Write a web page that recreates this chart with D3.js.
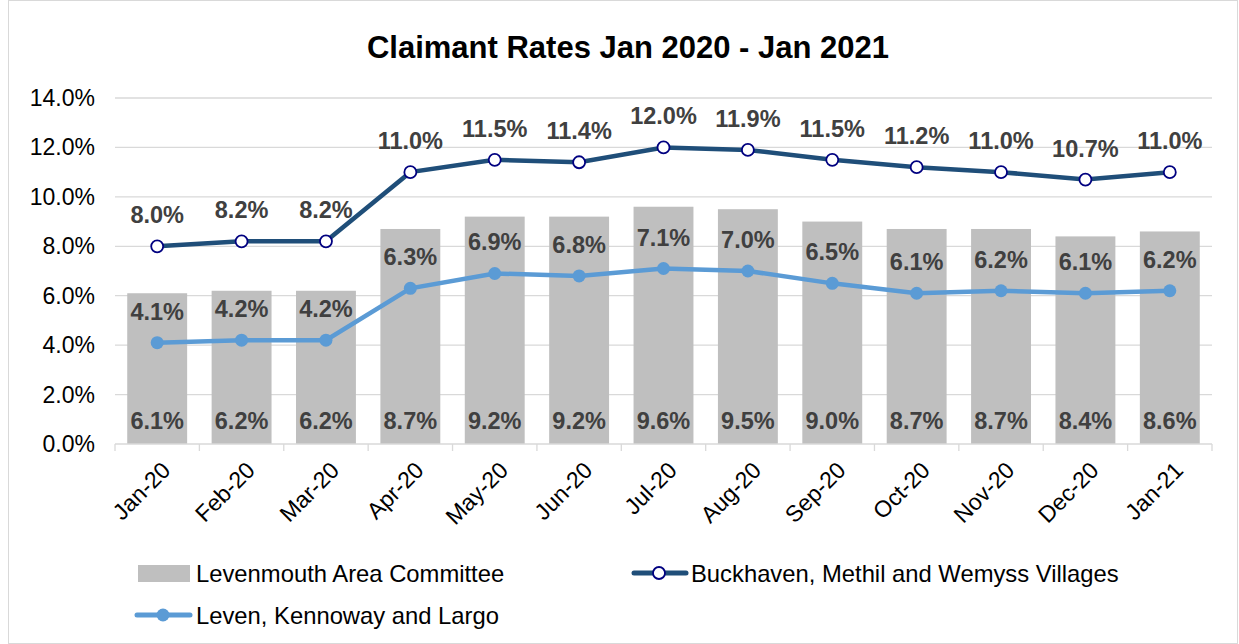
<!DOCTYPE html>
<html>
<head>
<meta charset="utf-8">
<script src="https://cdn.jsdelivr.net/npm/d3@7"></script>
<style>
  body { margin: 0; background: #fff; }
  text { font-family: "Liberation Sans", Arial, sans-serif; }
</style>
</head>
<body>
<div id="chart"></div>
<script>
var months = ["Jan-20", "Feb-20", "Mar-20", "Apr-20", "May-20", "Jun-20", "Jul-20",
              "Aug-20", "Sep-20", "Oct-20", "Nov-20", "Dec-20", "Jan-21"];
var levenmouth = [6.1, 6.2, 6.2, 8.7, 9.2, 9.2, 9.6, 9.5, 9.0, 8.7, 8.7, 8.4, 8.6];
var buckhaven = [8.0, 8.2, 8.2, 11.0, 11.5, 11.4, 12.0, 11.9, 11.5, 11.2, 11.0, 10.7, 11.0];
var leven = [4.1, 4.2, 4.2, 6.3, 6.9, 6.8, 7.1, 7.0, 6.5, 6.1, 6.2, 6.1, 6.2];
var yTicks = [0, 2, 4, 6, 8, 10, 12, 14];

var W = 1239, H = 644;
var margin = {top: 98, right: 27, bottom: 200, left: 115},
    width = W - margin.left - margin.right,
    height = H - margin.top - margin.bottom;

var svg = d3.select("#chart").append("svg")
    .attr("width", W)
    .attr("height", H);

svg.append("rect")
    .attr("x", 8.5).attr("y", 0.5)
    .attr("width", W - 10).attr("height", H - 1)
    .attr("fill", "#fff").attr("stroke", "#d9d9d9");

svg.append("text")
    .attr("x", 628).attr("y", 58)
    .attr("text-anchor", "middle")
    .attr("font-size", 31).attr("font-weight", "bold")
    .attr("fill", "#000")
    .text("Claimant Rates Jan 2020 - Jan 2021");

var g = svg.append("g")
    .attr("transform", "translate(" + margin.left + "," + margin.top + ")");

var X = d3.scaleBand().domain(months).range([0, width]).paddingInner(0.29).paddingOuter(0.145);
var Xc = function(d) { return X(d) + X.bandwidth() / 2; };
var Y = d3.scaleLinear().domain([0, 14]).range([height, 0]);

// gridlines
g.selectAll(".grid").data(yTicks.slice(1)).enter().append("line")
    .attr("x1", 0).attr("x2", width)
    .attr("y1", function(d) { return Y(d); })
    .attr("y2", function(d) { return Y(d); })
    .attr("stroke", "#d9d9d9").attr("stroke-width", 1.3);

// y axis labels
g.selectAll(".ylab").data(yTicks).enter().append("text")
    .attr("x", -20).attr("y", function(d) { return Y(d); })
    .attr("dy", "0.35em")
    .attr("text-anchor", "end")
    .attr("font-size", 23).attr("fill", "#000")
    .text(function(d) { return d.toFixed(1) + "%"; });

// bars
g.selectAll(".bar").data(levenmouth).enter().append("rect")
    .attr("x", function(d, i) { return X(months[i]); })
    .attr("y", function(d) { return Y(d); })
    .attr("width", X.bandwidth())
    .attr("height", function(d) { return height - Y(d); })
    .attr("fill", "#bfbfbf");

// x axis
var step = X.step();
g.append("line").attr("x1", 0).attr("x2", width)
    .attr("y1", height).attr("y2", height)
    .attr("stroke", "#d9d9d9").attr("stroke-width", 1.3);
g.selectAll(".xtick").data(d3.range(months.length + 1)).enter().append("line")
    .attr("x1", function(d) { return d * step; })
    .attr("x2", function(d) { return d * step; })
    .attr("y1", height).attr("y2", height + 7)
    .attr("stroke", "#d9d9d9").attr("stroke-width", 1.3);

g.selectAll(".xlab").data(months).enter().append("text")
    .attr("transform", function(d) {
        return "translate(" + (Xc(d) + 9) + "," + (height + 22) + ") rotate(-45)";
    })
    .attr("text-anchor", "end")
    .attr("dy", "0.35em")
    .attr("font-size", 23).attr("fill", "#000")
    .text(function(d) { return d; });

// bar labels
g.selectAll(".barlab").data(levenmouth).enter().append("text")
    .attr("x", function(d, i) { return Xc(months[i]); })
    .attr("y", height - 15)
    .attr("text-anchor", "middle")
    .attr("font-size", 23.5).attr("font-weight", "bold").attr("fill", "#404040")
    .text(function(d) { return d.toFixed(1) + "%"; });

var line = d3.line()
    .x(function(d, i) { return Xc(months[i]); })
    .y(function(d) { return Y(d); });

// Leven line
g.append("path").datum(leven)
    .attr("d", line).attr("fill", "none")
    .attr("stroke", "#5b9bd5").attr("stroke-width", 4.5);
g.selectAll(".levpt").data(leven).enter().append("circle")
    .attr("cx", function(d, i) { return Xc(months[i]); })
    .attr("cy", function(d) { return Y(d); })
    .attr("r", 6.5).attr("fill", "#5b9bd5");
g.selectAll(".levlab").data(leven).enter().append("text")
    .attr("x", function(d, i) { return Xc(months[i]); })
    .attr("y", function(d) { return Y(d) - 23; })
    .attr("text-anchor", "middle")
    .attr("font-size", 23.5).attr("font-weight", "bold").attr("fill", "#404040")
    .text(function(d) { return d.toFixed(1) + "%"; });

// Buckhaven line
g.append("path").datum(buckhaven)
    .attr("d", line).attr("fill", "none")
    .attr("stroke", "#1f4e79").attr("stroke-width", 4.5);
g.selectAll(".bucpt").data(buckhaven).enter().append("circle")
    .attr("cx", function(d, i) { return Xc(months[i]); })
    .attr("cy", function(d) { return Y(d); })
    .attr("r", 6).attr("fill", "#fff")
    .attr("stroke", "#000080").attr("stroke-width", 1.8);
g.selectAll(".buclab").data(buckhaven).enter().append("text")
    .attr("x", function(d, i) { return Xc(months[i]); })
    .attr("y", function(d) { return Y(d) - 23; })
    .attr("text-anchor", "middle")
    .attr("font-size", 23.5).attr("font-weight", "bold").attr("fill", "#404040")
    .text(function(d) { return d.toFixed(1) + "%"; });

// legend
var leg = svg.append("g");
leg.append("rect").attr("x", 138).attr("y", 565).attr("width", 52).attr("height", 17).attr("fill", "#bfbfbf");
leg.append("text").attr("x", 196).attr("y", 574).attr("dy", "0.35em")
    .attr("font-size", 23.8).attr("fill", "#000").text("Levenmouth Area Committee");

leg.append("line").attr("x1", 137).attr("x2", 190).attr("y1", 615).attr("y2", 615)
    .attr("stroke", "#5b9bd5").attr("stroke-width", 5).attr("stroke-linecap", "round");
leg.append("circle").attr("cx", 163).attr("cy", 615).attr("r", 6.5).attr("fill", "#5b9bd5");
leg.append("text").attr("x", 196).attr("y", 616).attr("dy", "0.35em")
    .attr("font-size", 23.8).attr("fill", "#000").text("Leven, Kennoway and Largo");

leg.append("line").attr("x1", 634).attr("x2", 686).attr("y1", 573).attr("y2", 573)
    .attr("stroke", "#1f4e79").attr("stroke-width", 5).attr("stroke-linecap", "round");
leg.append("circle").attr("cx", 659).attr("cy", 573).attr("r", 6).attr("fill", "#fff")
    .attr("stroke", "#000080").attr("stroke-width", 1.8);
leg.append("text").attr("x", 691).attr("y", 574).attr("dy", "0.35em")
    .attr("font-size", 23.8).attr("fill", "#000").text("Buckhaven, Methil and Wemyss Villages");
</script>
</body>
</html>
